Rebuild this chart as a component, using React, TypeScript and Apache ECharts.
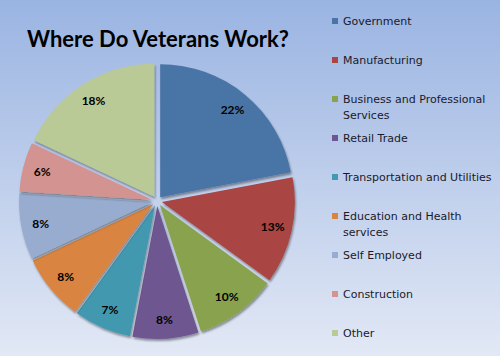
import React, { useEffect, useRef } from 'react';
import * as echarts from 'echarts';

const categories = [
  'Government',
  'Manufacturing',
  'Business and Professional Services',
  'Retail Trade',
  'Transportation and Utilities',
  'Education and Health services',
  'Self Employed',
  'Construction',
  'Other',
];
const legendLabels = [
  'Government',
  'Manufacturing',
  'Business and Professional\nServices',
  'Retail Trade',
  'Transportation and Utilities',
  'Education and Health\nservices',
  'Self Employed',
  'Construction',
  'Other',
];
const values = [22, 13, 10, 8, 7, 8, 8, 6, 18];
const colors = ['#4A74A6', '#A94543', '#89A24D', '#6E5690', '#4399AF', '#D9843F', '#98ACCF', '#D39391', '#B9CA97'];

export default function App() {
  const ref = useRef<HTMLDivElement>(null);
  useEffect(() => {
    const chart = echarts.init(ref.current!, null, { renderer: 'svg' });
    const legends = categories.map((name, i) => {
      const twoLine = legendLabels[i].includes('\n');
      const c = 21 + 39 * i;
      return {
        orient: 'vertical',
        left: 332,
        top: twoLine ? c - 24 : c - 8,
        padding: 0,
        itemWidth: 6,
        itemHeight: 6,
        icon: 'rect',
        selectedMode: false,
        data: [name],
        formatter: () => (twoLine ? '\n' + legendLabels[i] : legendLabels[i]),
        textStyle: {
          fontFamily: 'DejaVu Sans',
          fontSize: 11,
          color: '#1a1a2a',
          lineHeight: 16,
        },
      };
    });
    const data = categories.map((name, i) => ({
      name,
      value: values[i],
      selected: true,
      itemStyle: { color: colors[i] },
    }));
    chart.setOption({
      animation: false,
      backgroundColor: new echarts.graphic.LinearGradient(0, 0, 0, 1, [
        { offset: 0, color: '#9AB4E2' },
        { offset: 1, color: '#E2E8F5' },
      ]),
      title: {
        text: 'Where Do Veterans Work?',
        left: 27,
        top: 27,
        padding: 0,
        textStyle: { fontFamily: 'Lato', fontWeight: 'bold', fontSize: 22, color: '#000' },
      },
      legend: legends,
      series: [
        {
          type: 'pie',
          center: [157, 201],
          radius: [0, 133],
          startAngle: 90,
          clockwise: true,
          selectedMode: 'multiple',
          selectedOffset: 5,
          silent: true,
          label: { show: false },
          labelLine: { show: false },
          itemStyle: {
            shadowColor: 'rgba(0,0,0,0.4)',
            shadowBlur: 2,
            shadowOffsetX: 1,
            shadowOffsetY: 2,
          },
          data,
        },
        {
          type: 'pie',
          center: [157, 201],
          radius: [88, 133],
          startAngle: 90,
          clockwise: true,
          selectedMode: 'multiple',
          selectedOffset: 5,
          silent: true,
          itemStyle: { color: 'rgba(0,0,0,0)' },
          label: {
            show: true,
            position: 'inside',
            formatter: '{c}%',
            fontFamily: 'Lato',
            fontWeight: 'bold',
            fontSize: 12,
            color: '#000',
          },
          labelLine: { show: false },
          data: categories.map((name, i) => ({ name, value: values[i], selected: true, itemStyle: { color: 'rgba(0,0,0,0)' } })),
        },
      ],
    });
    return () => chart.dispose();
  }, []);
  return <div ref={ref} style={{ position: 'fixed', left: 0, top: 0, width: 500, height: 356 }} />;
}
